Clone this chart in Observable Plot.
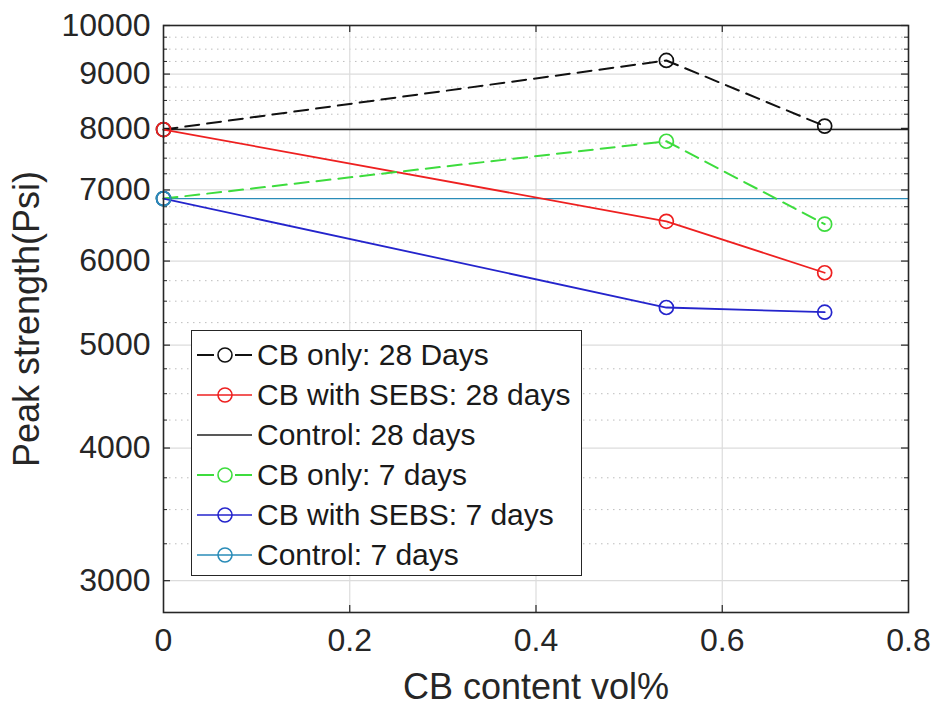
<!DOCTYPE html>
<html>
<head>
<meta charset="utf-8">
<script src="https://cdn.jsdelivr.net/npm/d3@7"></script>
<script src="https://cdn.jsdelivr.net/npm/@observablehq/plot@0.6"></script>
<style>
  html, body { margin: 0; padding: 0; background: #fff; }
  #wrap { position: relative; width: 935px; height: 715px; font-family: "Liberation Sans", Arial, sans-serif; }
  #wrap svg { position: absolute; left: 0; top: 0; }
  #legend { position: absolute; left: 191px; top: 330px; width: 389px; height: 240px; padding-top: 4px;
            border: 1.5px solid #262626; background: #fff; }
  .row { position: relative; height: 40px; }
  .row svg { position: absolute; left: 0; top: 0; }
  .row span { position: absolute; left: 65px; top: 0; line-height: 40px; font-size: 30px; color: #1a1a1a; white-space: nowrap; }
</style>
</head>
<body>
<div id="wrap"></div>
<script>
// ---- data ----
const cbContent = [0, 0.54, 0.71];               // CB content vol%
const cbOnly28  = [7980, 9270, 8040];            // CB only: 28 Days
const sebs28    = [7980, 6540, 5850];            // CB with SEBS: 28 days
const control28 = [7980];                        // Control: 28 days
const cbOnly7   = [6870, 7780, 6500];            // CB only: 7 days
const sebs7     = [6870, 5425, 5370];            // CB with SEBS: 7 days
const control7  = [6870];                        // Control: 7 days
const seriesNames = ["CB only: 28 Days", "CB with SEBS: 28 days", "Control: 28 days",
                     "CB only: 7 days", "CB with SEBS: 7 days", "Control: 7 days"];
const xTicks = [0, 0.2, 0.4, 0.6, 0.8];
const yTicks = [3000, 4000, 5000, 6000, 7000, 8000, 9000, 10000];
const yMinor = d3.range(3250, 10000, 250).filter(v => v % 1000 !== 0);

// ---- styles ----
const styles = [
  {color: "#111111", dash: "14,8",  marker: true,  width: 2},
  {color: "#ee2020", dash: null,    marker: true,  width: 1.8},
  {color: "#222222", dash: null,    marker: false, width: 1.4},
  {color: "#3ddc3d", dash: "14,8",  marker: true,  width: 2},
  {color: "#2424cc", dash: null,    marker: true,  width: 1.8},
  {color: "#2a8cb8", dash: null,    marker: true,  width: 1.4}
];

const rows = (name, vals) => vals.map((v, i) => ({name, x: cbContent[i], y: v}));
const lineSeries = [
  {i: 0, data: rows(seriesNames[0], cbOnly28)},
  {i: 1, data: rows(seriesNames[1], sebs28)},
  {i: 3, data: rows(seriesNames[3], cbOnly7)},
  {i: 4, data: rows(seriesNames[4], sebs7)}
];

const W = 935, H = 715, mL = 163, mR = 27, mT = 25, mB = 103;
const pW = W - mL - mR, pH = H - mT - mB;
const ink = "#262626";

const marks = [
  // grid
  Plot.ruleY(yMinor, {y: d => d, stroke: "#bdbdbd", strokeWidth: 1, strokeDasharray: "1.5,4.5"}),
  Plot.ruleY(yTicks, {y: d => d, stroke: "#dcdcdc", strokeWidth: 1.2}),
  Plot.ruleX(xTicks.slice(1, -1), {x: d => d, stroke: "#dcdcdc", strokeWidth: 1.2}),
  // inward ticks
  Plot.tickY(yTicks, {y: d => d, insetRight: pW - 7, stroke: ink, strokeWidth: 1.2}),
  Plot.tickY(yTicks, {y: d => d, insetLeft: pW - 7, stroke: ink, strokeWidth: 1.2}),
  Plot.tickY(yMinor, {y: d => d, insetRight: pW - 4, stroke: ink, strokeWidth: 1}),
  Plot.tickY(yMinor, {y: d => d, insetLeft: pW - 4, stroke: ink, strokeWidth: 1}),
  Plot.tickX(xTicks.slice(1, -1), {x: d => d, insetTop: pH - 7, stroke: ink, strokeWidth: 1.2}),
  Plot.tickX(xTicks.slice(1, -1), {x: d => d, insetBottom: pH - 7, stroke: ink, strokeWidth: 1.2}),
  // control lines
  Plot.ruleY(control28, {y: d => d, stroke: styles[2].color, strokeWidth: styles[2].width}),
  Plot.ruleY(control7, {y: d => d, stroke: styles[5].color, strokeWidth: styles[5].width})
];
for (const s of lineSeries) {
  const st = styles[s.i];
  marks.push(Plot.line(s.data, {x: "x", y: "y", stroke: st.color, strokeWidth: st.width, strokeDasharray: st.dash}));
  marks.push(Plot.dot(s.data, {x: "x", y: "y", r: 7, stroke: st.color, fill: "none", strokeWidth: 1.7}));
}
marks.push(Plot.dot(control7, {x: () => cbContent[0], y: d => d, r: 7, stroke: styles[5].color, fill: "none", strokeWidth: 1.7}));
marks.push(
  Plot.frame({stroke: ink, strokeWidth: 1.6}),
  Plot.axisY(yTicks, {tickSize: 0, tickPadding: 13, tickFormat: d => String(d), fontSize: 32, color: ink, label: null}),
  Plot.axisX(xTicks, {tickSize: 0, tickPadding: 16, tickFormat: d => String(d), fontSize: 32, color: ink, label: null}),
  Plot.text(["Peak strength(Psi)"], {text: d => d, frameAnchor: "left", textAnchor: "middle", dx: -136, rotate: -90, fontSize: 36, fill: ink}),
  Plot.text(["CB content vol%"], {text: d => d, frameAnchor: "bottom", dy: 86, fontSize: 36, fill: ink})
);

const chart = Plot.plot({
  width: W, height: H,
  marginLeft: mL, marginRight: mR, marginTop: mT, marginBottom: mB,
  x: {domain: [0, 0.8]},
  y: {type: "log", domain: [2800, 10000]},
  style: {fontFamily: '"Liberation Sans", Arial, sans-serif', fontSize: "32px", background: "#fff", overflow: "visible"},
  marks
});
const wrap = document.getElementById("wrap");
wrap.appendChild(chart);

// ---- legend (inside the axes, like the original) ----
const legend = document.createElement("div");
legend.id = "legend";
seriesNames.forEach((name, i) => {
  const st = styles[i];
  const row = document.createElement("div");
  row.className = "row";
  const svg = d3.create("svg").attr("width", 62).attr("height", 40);
  if (st.dash) {
    svg.append("line").attr("x1", 5).attr("x2", 60).attr("y1", 20).attr("y2", 20)
      .attr("stroke", st.color).attr("stroke-width", 1.8).attr("stroke-dasharray", "17,21");
  } else {
    svg.append("line").attr("x1", 5).attr("x2", 60).attr("y1", 20).attr("y2", 20)
      .attr("stroke", st.color).attr("stroke-width", 1.6);
  }
  if (st.marker) {
    svg.append("circle").attr("cx", 33).attr("cy", 20).attr("r", 7)
      .attr("fill", "none").attr("stroke", st.color).attr("stroke-width", 1.6);
  }
  row.appendChild(svg.node());
  const span = document.createElement("span");
  span.textContent = name;
  row.appendChild(span);
  legend.appendChild(row);
});
wrap.appendChild(legend);
</script>
</body>
</html>
